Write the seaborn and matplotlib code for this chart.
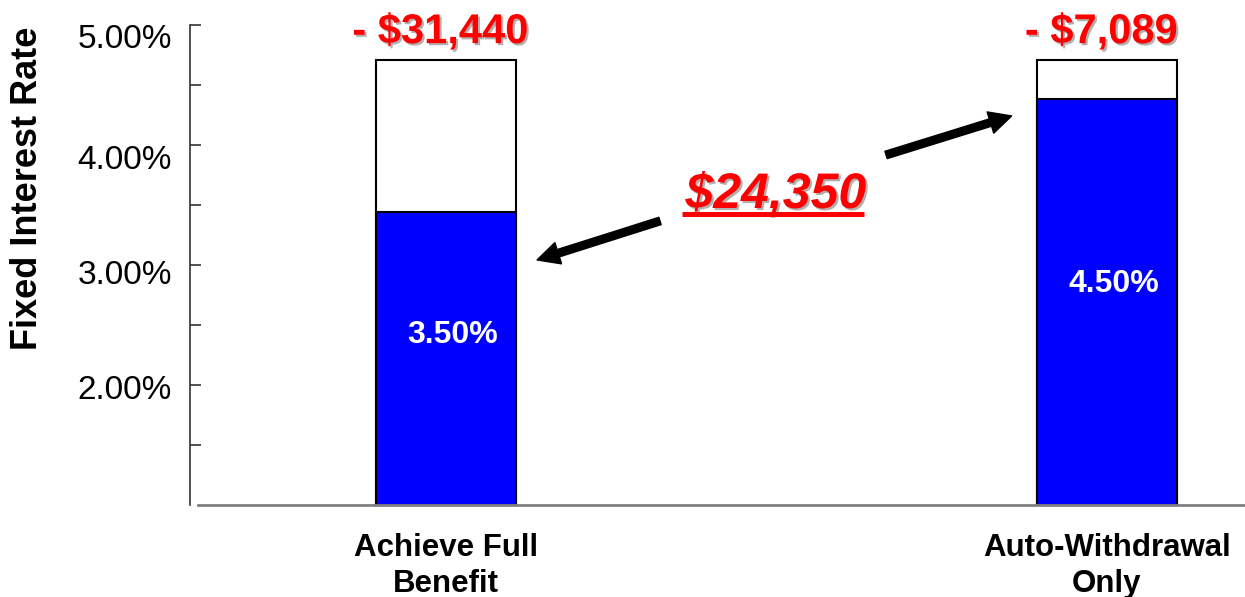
import matplotlib
matplotlib.use('Agg')
import matplotlib.pyplot as plt
import matplotlib.patheffects as pe
from matplotlib.lines import Line2D
from matplotlib.transforms import ScaledTranslation
import seaborn as sns
import pandas as pd

# values
categories = ['Achieve Full\nBenefit', 'Auto-Withdrawal\nOnly']
rate = [3.44, 4.38]          # blue part
total = [4.71, 4.71]         # top of white part
rate_labels = ['3.50%', '4.50%']
cost_labels = ['- $31,440', '- $7,089']
difference_label = '$24,350'
yticks = [2, 3, 4, 5]
yticks_minor = [1.5, 2.5, 3.5, 4.5]

df = pd.DataFrame({'plan': categories, 'rate': rate, 'total': total})

sns.set_style('ticks')
plt.rcParams['font.family'] = ['Liberation Sans', 'DejaVu Sans']
plt.rcParams['text.color'] = 'black'
plt.rcParams['xtick.color'] = 'black'
plt.rcParams['ytick.color'] = 'black'

fig = plt.figure(figsize=(12.45, 5.97), dpi=100)
ax = fig.add_axes([190/1245, 92/597, 1055/1245, 480/597])

bar_w = 0.212
sns.barplot(data=df, x='plan', y='total', color='white', edgecolor='black',
            linewidth=1.5, width=bar_w, saturation=1, errorbar=None, ax=ax)
sns.barplot(data=df, x='plan', y='rate', color='#0000ff', edgecolor='black',
            linewidth=1.5, width=bar_w, saturation=1, errorbar=None, ax=ax)

ax.set_xlim(-0.387, 1.209)
ax.set_ylim(1, 5)
ax.set_xlabel('')
ax.set_ylabel('')

# axes styling
ax.set_yticks(yticks)
ax.set_yticklabels(['{:.2f}%'.format(v) for v in yticks])
ax.set_yticks(yticks_minor, minor=True)
ax.tick_params(axis='y', which='both', direction='in', length=8, width=1.2,
               color='#333333', labelsize=24, pad=13, left=True)
ax.tick_params(axis='x', length=0, labelsize=22.5, pad=20)
for lbl in ax.get_xticklabels():
    lbl.set_fontweight('bold')
    lbl.set_linespacing(1.27)
# tick labels sit a little below their ticks in the original
label_drop = [2, 7, 12, 11.5]
for lbl, dy in zip(ax.get_yticklabels(), label_drop):
    lbl.set_transform(lbl.get_transform() + ScaledTranslation(0, -dy/100, fig.dpi_scale_trans))
for s in ['top', 'right']:
    ax.spines[s].set_visible(False)
ax.spines['left'].set_color('#333333')
ax.spines['left'].set_linewidth(1.2)
ax.spines['bottom'].set_color('#808080')
ax.spines['bottom'].set_linewidth(2)
ax.spines['bottom'].set_bounds(-0.375, 1.209)

ax.text(-0.1536, 0.66, 'Fixed Interest Rate', transform=ax.transAxes,
        rotation=90, ha='center', va='center', fontsize=26, fontweight='bold')

shadow = [pe.SimplePatchShadow(offset=(1.5, -1.5), shadow_rgbFace='#b0b0b0', alpha=1),
          pe.Normal()]

# labels on top of the bars
for i, lab in enumerate(cost_labels):
    ax.annotate(lab, xy=(i, total[i]), xytext=(-4, 12), textcoords='offset points',
                ha='center', va='baseline', fontsize=30, fontweight='bold',
                color='red', path_effects=shadow)

# rate labels inside the blue bars
rate_label_y = [2.417, 2.842]
for i, lab in enumerate(rate_labels):
    ax.annotate(lab, xy=(i, rate_label_y[i]), xytext=(5, 0), textcoords='offset points',
                ha='center', va='center', fontsize=23, fontweight='bold', color='white')

# difference label with arrows
diff = ax.text(0.499, 3.475, difference_label, ha='center', va='baseline',
               fontsize=36, fontweight='bold', fontstyle='italic', color='red',
               path_effects=shadow)
arrow = dict(facecolor='black', edgecolor='black', width=5.5, headwidth=16,
             headlength=16, shrink=0)
ax.annotate('', xy=(0.138, 3.042), xytext=(0.324, 3.367), arrowprops=arrow)
ax.annotate('', xy=(0.856, 4.242), xytext=(0.666, 3.917), arrowprops=arrow)

# underline for the difference label
fig.canvas.draw()
bb = diff.get_window_extent(fig.canvas.get_renderer())
inv = fig.transFigure.inverted()
(x0, y0), (x1, _) = inv.transform([(bb.x0 - 3, bb.y0 + 4.5), (bb.x1 - 2, bb.y0 + 4.5)])
fig.add_artist(Line2D([x0, x1], [y0, y0], transform=fig.transFigure, color='red',
                      linewidth=3.6, solid_capstyle='butt', path_effects=shadow))

fig.savefig('out.png', dpi=100)
